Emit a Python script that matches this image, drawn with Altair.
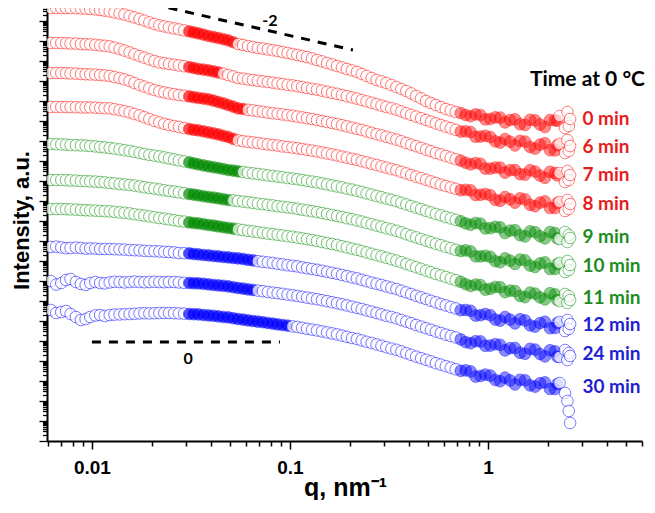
import altair as alt
import pandas as pd

# ---------------- data ----------------
series_names = ["0 min", "6 min", "7 min", "8 min", "9 min",
                "10 min", "11 min", "12 min", "24 min", "30 min"]
point_colors = ["#ff0000", "#ff0000", "#ff0000", "#ff0000",
                "#008a00", "#008a00", "#008a00",
                "#0000ff", "#0000ff", "#0000ff"]
label_colors = ["#e61e1e", "#e61e1e", "#e61e1e", "#e61e1e",
                "#1f8c1f", "#1f8c1f", "#1f8c1f",
                "#1e1ed2", "#1e1ed2", "#1e1ed2"]

# scattering vector q (nm^-1), main reading grid
q_grid = [0.0062, 0.007, 0.0078, 0.0088, 0.0098, 0.011, 0.0123, 0.0138, 0.0155, 0.0174,
          0.0195, 0.0219, 0.0245, 0.0275, 0.031, 0.0345, 0.0388, 0.0435, 0.0488, 0.0547,
          0.0614, 0.0689, 0.0773, 0.0867, 0.0973, 0.109, 0.122, 0.137, 0.154, 0.173,
          0.194, 0.218, 0.244, 0.274, 0.307, 0.345, 0.387, 0.434, 0.487, 0.546,
          0.613, 0.688, 0.772, 0.866, 0.97, 1.09, 1.22, 1.37, 1.54, 1.73,
          1.94, 2.18, 2.3, 2.45, 2.52, 2.56, 2.6]
# second reading grid, between the points above
q_mid = [0.0066, 0.0074, 0.0083, 0.0093, 0.0104, 0.0116, 0.013, 0.0146, 0.0164, 0.0184,
         0.0207, 0.0232, 0.026, 0.0292, 0.0327, 0.0366, 0.0411, 0.0461, 0.0517, 0.058,
         0.065, 0.073, 0.0819, 0.0918, 0.103, 0.1153, 0.1293, 0.1452, 0.1632, 0.1832,
         0.2057, 0.2306, 0.2586, 0.29, 0.3255, 0.3654, 0.4098, 0.4597, 0.5157, 0.5785,
         0.6494, 0.7288, 0.8177, 0.9166, 1.028, 1.153, 1.293, 1.452, 1.632, 1.832,
         2.057, 2.24]

# log10 of the (vertically shifted) intensity, arbitrary units
lg_0min = [21.65, 21.65, 21.65, 21.63, 21.6, 21.55, 21.48, 21.38, 21.25, 21.1,
           20.93, 20.78, 20.68, 20.58, 20.48, 20.38, 20.25, 20.15, 20.03, 19.85,
           19.75, 19.65, 19.58, 19.5, 19.4, 19.3, 19.2, 19.05, 18.9, 18.75,
           18.6, 18.45, 18.25, 18.05, 17.9, 17.7, 17.5, 17.25, 17.0, 16.8,
           16.6, 16.45, 16.3, 16.33, 16.08, 16.18, 15.93, 16.08, 15.8, 16.03,
           15.7, 16.03, 16.25, 15.65, 16.45, 15.75, 16.1]
lg_0min_mid = [21.65, 21.65, 21.64, 21.62, 21.58, 21.52, 21.43, 21.32, 21.18, 21.02,
               20.85, 20.73, 20.63, 20.53, 20.43, 20.32, 20.2, 20.09, 19.94, 19.8,
               19.7, 19.62, 19.54, 19.45, 19.35, 19.25, 19.13, 18.98, 18.83, 18.68,
               18.53, 18.35, 18.15, 17.98, 17.8, 17.6, 17.38, 17.13, 16.9, 16.7,
               16.53, 16.4, 16.24, 16.3, 16.1, 16.17, 16.05, 15.84, 16.06, 15.82,
               16.05, 16.02]
lg_6min = [19.9, 19.9, 19.88, 19.85, 19.83, 19.78, 19.73, 19.6, 19.43, 19.25,
           19.08, 18.93, 18.85, 18.78, 18.7, 18.6, 18.53, 18.43, 18.3, 18.15,
           18.08, 18.01, 17.95, 17.88, 17.81, 17.74, 17.65, 17.57, 17.46, 17.36,
           17.24, 17.12, 16.98, 16.84, 16.7, 16.57, 16.39, 16.22, 16.05, 15.88,
           15.72, 15.56, 15.48, 15.21, 15.26, 14.98, 15.1, 14.78, 14.97, 14.62,
           14.89, 14.53, 14.85, 14.4, 15.05, 14.5, 14.75]
lg_6min_mid = [19.9, 19.89, 19.87, 19.84, 19.81, 19.76, 19.67, 19.52, 19.34, 19.17,
               19.0, 18.89, 18.82, 18.74, 18.65, 18.57, 18.48, 18.37, 18.23, 18.12,
               18.05, 17.98, 17.92, 17.85, 17.78, 17.7, 17.61, 17.52, 17.41, 17.3,
               17.18, 17.05, 16.91, 16.77, 16.64, 16.48, 16.31, 16.14, 15.97, 15.8,
               15.64, 15.47, 15.45, 15.22, 15.2, 14.92, 14.97, 15.01, 14.7, 14.82,
               14.54, 14.79]
lg_7min = [18.4, 18.4, 18.38, 18.35, 18.33, 18.3, 18.25, 18.15, 18.0, 17.8,
           17.63, 17.48, 17.38, 17.3, 17.23, 17.15, 17.08, 16.95, 16.8, 16.63,
           16.56, 16.49, 16.42, 16.36, 16.29, 16.22, 16.14, 16.05, 15.95, 15.85,
           15.73, 15.61, 15.48, 15.34, 15.21, 15.07, 14.9, 14.74, 14.57, 14.4,
           14.25, 14.09, 13.91, 13.9, 13.62, 13.67, 13.42, 13.55, 13.32, 13.47,
           13.16, 13.4, 13.4, 12.95, 13.5, 13.05, 13.3]
lg_7min_mid = [18.4, 18.39, 18.37, 18.34, 18.32, 18.28, 18.2, 18.08, 17.9, 17.72,
               17.55, 17.43, 17.34, 17.27, 17.19, 17.12, 17.02, 16.88, 16.72, 16.6,
               16.53, 16.46, 16.39, 16.33, 16.26, 16.18, 16.1, 16.0, 15.9, 15.79,
               15.67, 15.55, 15.41, 15.28, 15.14, 14.99, 14.82, 14.66, 14.49, 14.33,
               14.17, 14.02, 13.83, 13.86, 13.62, 13.67, 13.54, 13.34, 13.54, 13.27,
               13.46, 13.28]
lg_8min = [16.7, 16.7, 16.7, 16.68, 16.68, 16.65, 16.63, 16.55, 16.43, 16.28,
           16.1, 15.93, 15.8, 15.7, 15.6, 15.53, 15.43, 15.33, 15.2, 15.03,
           14.96, 14.9, 14.83, 14.77, 14.7, 14.64, 14.56, 14.48, 14.38, 14.28,
           14.17, 14.06, 13.93, 13.8, 13.67, 13.54, 13.38, 13.22, 13.06, 12.9,
           12.75, 12.61, 12.56, 12.3, 12.35, 12.06, 12.2, 11.92, 12.08, 11.74,
           11.98, 11.65, 11.95, 11.5, 12.05, 11.6, 11.85]
lg_8min_mid = [16.7, 16.7, 16.69, 16.68, 16.67, 16.64, 16.59, 16.49, 16.35, 16.19,
               16.01, 15.86, 15.75, 15.65, 15.56, 15.48, 15.38, 15.26, 15.11, 14.99,
               14.93, 14.86, 14.8, 14.73, 14.67, 14.6, 14.52, 14.43, 14.33, 14.22,
               14.11, 13.99, 13.86, 13.73, 13.6, 13.46, 13.3, 13.14, 12.98, 12.82,
               12.68, 12.54, 12.53, 12.31, 12.29, 12.01, 12.09, 12.13, 11.81, 11.92,
               11.65, 11.9]
lg_9min = [14.85, 14.83, 14.8, 14.78, 14.75, 14.7, 14.65, 14.58, 14.5, 14.4,
           14.3, 14.23, 14.13, 14.03, 13.93, 13.83, 13.73, 13.65, 13.55, 13.48,
           13.41, 13.35, 13.28, 13.22, 13.15, 13.09, 13.01, 12.93, 12.83, 12.73,
           12.62, 12.51, 12.38, 12.25, 12.12, 11.99, 11.83, 11.67, 11.51, 11.35,
           11.2, 11.06, 10.88, 10.9, 10.63, 10.71, 10.4, 10.54, 10.23, 10.44,
           10.13, 10.4, 10.1, 10.45, 9.95, 10.3, 10.15]
lg_9min_mid = [14.84, 14.82, 14.79, 14.77, 14.73, 14.68, 14.62, 14.54, 14.45, 14.35,
               14.27, 14.18, 14.08, 13.98, 13.88, 13.78, 13.69, 13.6, 13.52, 13.45,
               13.38, 13.32, 13.25, 13.19, 13.12, 13.05, 12.97, 12.88, 12.78, 12.68,
               12.57, 12.45, 12.32, 12.19, 12.06, 11.91, 11.75, 11.59, 11.43, 11.28,
               11.13, 10.99, 10.81, 10.87, 10.64, 10.68, 10.52, 10.29, 10.48, 10.24,
               10.45, 10.13]
lg_10min = [13.05, 13.05, 13.03, 13.0, 12.98, 12.95, 12.9, 12.85, 12.8, 12.73,
            12.65, 12.58, 12.5, 12.43, 12.35, 12.28, 12.2, 12.13, 12.05, 12.0,
            11.94, 11.87, 11.81, 11.74, 11.68, 11.61, 11.53, 11.45, 11.35, 11.25,
            11.14, 11.03, 10.9, 10.77, 10.64, 10.51, 10.34, 10.18, 10.02, 9.86,
            9.71, 9.56, 9.53, 9.23, 9.26, 8.99, 9.13, 8.85, 9.03, 8.7,
            8.93, 8.6, 8.9, 8.45, 9.0, 8.55, 8.8]
lg_10min_mid = [13.05, 13.04, 13.02, 12.99, 12.97, 12.93, 12.88, 12.83, 12.77, 12.69,
                12.62, 12.54, 12.47, 12.39, 12.32, 12.24, 12.17, 12.09, 12.03, 11.97,
                11.91, 11.84, 11.78, 11.71, 11.65, 11.57, 11.49, 11.4, 11.3, 11.2,
                11.09, 10.97, 10.84, 10.71, 10.58, 10.43, 10.26, 10.1, 9.94, 9.79,
                9.64, 9.5, 9.48, 9.23, 9.21, 8.94, 9.02, 9.07, 8.77, 8.88,
                8.6, 8.85]
lg_11min = [11.6, 11.6, 11.58, 11.55, 11.53, 11.5, 11.48, 11.43, 11.38, 11.3,
            11.23, 11.15, 11.08, 11.0, 10.93, 10.88, 10.8, 10.73, 10.65, 10.58,
            10.51, 10.44, 10.37, 10.31, 10.24, 10.17, 10.09, 10.0, 9.9, 9.8,
            9.68, 9.56, 9.43, 9.29, 9.16, 9.02, 8.85, 8.69, 8.52, 8.35,
            8.2, 8.04, 7.84, 7.82, 7.57, 7.7, 7.44, 7.5, 7.19, 7.37,
            7.08, 7.33, 7.0, 7.35, 6.9, 7.25, 7.05]
lg_11min_mid = [11.6, 11.59, 11.57, 11.54, 11.52, 11.49, 11.46, 11.41, 11.34, 11.27,
                11.19, 11.12, 11.04, 10.97, 10.9, 10.84, 10.77, 10.69, 10.62, 10.55,
                10.48, 10.41, 10.34, 10.28, 10.21, 10.13, 10.05, 9.95, 9.85, 9.74,
                9.62, 9.5, 9.36, 9.23, 9.09, 8.94, 8.77, 8.61, 8.44, 8.28,
                8.12, 7.96, 7.75, 7.8, 7.61, 7.69, 7.52, 7.25, 7.42, 7.18,
                7.39, 7.05]
lg_12min = [9.7, 9.68, 9.65, 9.65, 9.63, 9.6, 9.6, 9.58, 9.55, 9.53,
            9.5, 9.48, 9.45, 9.4, 9.38, 9.33, 9.28, 9.23, 9.18, 9.13,
            9.06, 8.99, 8.93, 8.86, 8.79, 8.73, 8.64, 8.56, 8.46, 8.36,
            8.24, 8.13, 7.99, 7.86, 7.73, 7.6, 7.43, 7.26, 7.1, 6.93,
            6.78, 6.63, 6.55, 6.27, 6.35, 6.07, 6.2, 5.88, 6.03, 5.72,
            5.96, 5.65, 5.95, 5.5, 6.05, 5.6, 5.85]
lg_12min_mid = [9.72, 9.64, 9.67, 9.62, 9.62, 9.6, 9.59, 9.57, 9.54, 9.51,
                9.49, 9.46, 9.43, 9.39, 9.35, 9.3, 9.25, 9.2, 9.15, 9.1,
                9.03, 8.96, 8.9, 8.83, 8.76, 8.68, 8.6, 8.51, 8.41, 8.3,
                8.18, 8.06, 7.92, 7.8, 7.66, 7.51, 7.35, 7.18, 7.01, 6.85,
                6.7, 6.54, 6.51, 6.29, 6.29, 6.02, 6.07, 6.09, 5.78, 5.9,
                5.64, 5.9]
lg_24min = [8.0, 7.9, 8.1, 7.85, 7.9, 7.9, 7.93, 7.95, 7.95, 7.95,
            7.95, 7.95, 7.95, 7.93, 7.9, 7.88, 7.83, 7.78, 7.73, 7.65,
            7.58, 7.52, 7.45, 7.39, 7.32, 7.25, 7.17, 7.09, 6.99, 6.89,
            6.78, 6.66, 6.53, 6.4, 6.26, 6.13, 5.97, 5.8, 5.64, 5.47,
            5.32, 5.18, 4.94, 4.99, 4.76, 4.84, 4.53, 4.65, 4.36, 4.57,
            4.23, 4.48, 4.2, 4.55, 4.05, 4.4, 4.25]
lg_24min_mid = [7.82, 8.05, 7.95, 7.8, 7.95, 7.88, 7.96, 7.93, 7.97, 7.94,
                7.96, 7.94, 7.95, 7.91, 7.89, 7.86, 7.8, 7.76, 7.69, 7.62,
                7.55, 7.49, 7.42, 7.36, 7.29, 7.21, 7.13, 7.04, 6.94, 6.84,
                6.72, 6.6, 6.47, 6.33, 6.2, 6.05, 5.89, 5.72, 5.56, 5.4,
                5.25, 5.08, 4.89, 4.98, 4.77, 4.81, 4.64, 4.41, 4.61, 4.35,
                4.54, 4.22]
lg_30min = [6.55, 6.45, 6.35, 6.05, 6.2, 6.3, 6.3, 6.33, 6.35, 6.38,
            6.38, 6.4, 6.4, 6.38, 6.35, 6.33, 6.28, 6.23, 6.18, 6.1,
            6.03, 5.97, 5.9, 5.83, 5.77, 5.7, 5.61, 5.53, 5.43, 5.33,
            5.21, 5.1, 4.96, 4.83, 4.69, 4.56, 4.39, 4.22, 4.06, 3.89,
            3.74, 3.59, 3.53, 3.22, 3.32, 3.05, 3.17, 2.83, 3.03, 2.72,
            2.93, 2.6, 2.9, 2.4, 2.0, 1.5, 0.9]
lg_30min_mid = [6.4, 6.5, 6.2, 6.1, 6.28, 6.25, 6.32, 6.34, 6.36, 6.39,
                6.39, 6.4, 6.39, 6.37, 6.34, 6.3, 6.26, 6.2, 6.14, 6.07,
                6.0, 5.94, 5.87, 5.8, 5.73, 5.66, 5.57, 5.48, 5.38, 5.27,
                5.15, 5.03, 4.9, 4.76, 4.62, 4.48, 4.31, 4.14, 3.98, 3.82,
                3.67, 3.51, 3.48, 3.25, 3.27, 2.99, 3.03, 3.06, 2.78, 2.89,
                2.6, 2.85]

all_lg = [lg_0min, lg_6min, lg_7min, lg_8min, lg_9min,
          lg_10min, lg_11min, lg_12min, lg_24min, lg_30min]
all_lg_mid = [lg_0min_mid, lg_6min_mid, lg_7min_mid, lg_8min_mid, lg_9min_mid,
              lg_10min_mid, lg_11min_mid, lg_12min_mid, lg_24min_mid, lg_30min_mid]

# q ranges where each curve's points are densely packed
dense_from = [0.03, 0.03, 0.03, 0.03, 0.03, 0.03, 0.03, 0.03, 0.03, 0.03]
dense_to = [0.054, 0.045, 0.06, 0.054, 0.058, 0.05, 0.054, 0.068, 0.066, 0.1]
dense_hi = [0.7, 2.25]

# curve labels (right side)
label_q = [3.0] * 10
label_lg = [16.1, 14.7, 13.3, 11.85, 10.2, 8.75, 7.15, 5.8, 4.35, 2.7]
legend_title = "Time at 0 °C"
legend_title_q = [1.63]
legend_title_lg = [18.05]

# slope guide lines
guide_names = ["-2", "-2", "0", "0"]
guide_q = [0.0201, 0.208, 0.01, 0.089]
guide_lg = [21.85, 19.55, 4.95, 4.95]
guide_text = ["-2", "0"]
guide_text_q = [0.0793, 0.0306]
guide_text_lg = [21.0, 4.1]

# ---------------- tables ----------------
rows = []
for si, (name, lgs, lgm, d0, d1) in enumerate(zip(series_names, all_lg, all_lg_mid,
                                                  dense_from, dense_to)):
    assert len(lgs) == len(q_grid), name
    assert len(lgm) == len(q_mid), name
    for q, v in list(zip(q_grid, lgs)) + list(zip(q_mid, lgm)):
        rows.append({"si": si, "series": name, "q": q, "lg": v, "d0": d0, "d1": d1})
pts = pd.DataFrame(rows).sort_values(["si", "q"]).reset_index(drop=True)

labels = pd.DataFrame({"text": series_names, "q": label_q, "lg": label_lg,
                       "col": label_colors})
title_df = pd.DataFrame({"text": [legend_title], "q": legend_title_q,
                         "lg": legend_title_lg})
guides = pd.DataFrame({"line": guide_names, "q": guide_q, "lg": guide_lg})
guide_lbl = pd.DataFrame({"text": guide_text, "q": guide_text_q, "lg": guide_text_lg})

# ---------------- axes ----------------
x_major = [0.01, 0.1, 1]
x_ticks = list(x_major)
for n in (-3, -2, -1, 0):
    for k in range(2, 10):
        v = round(k * 10 ** n, 6)
        if 0.00593 <= v <= 6.0:
            x_ticks.append(v)

y_top = 10 ** 21.65
y_ticks = []
for n in range(0, 22):
    for k in range(1, 10):
        v = k * 10 ** n
        if v <= y_top:
            y_ticks.append(float(v))

x_enc = alt.X(
    "q:Q",
    scale=alt.Scale(type="log", domain=[0.00593, 6.0], nice=False),
    axis=alt.Axis(
        values=x_ticks, format="~g",
        labelExpr="(datum.value == 0.01 || datum.value == 0.1 || datum.value == 1) ? datum.label : ''",
        labelFont="Liberation Sans", labelFontWeight="bold", labelFontSize=19,
        labelColor="black", labelBaseline="alphabetic", labelPadding=24,
        labelOverlap=False, labelFlush=False,
        tickSize={"condition": {"test": "datum.value == 0.01 || datum.value == 0.1 || datum.value == 1",
                                "value": 8}, "value": 5},
        tickColor="black", tickWidth=1.5, domainColor="black", domainWidth=2,
        grid=False,
        title="q, nm⁻¹", titleFont="Liberation Sans", titleFontWeight="bold",
        titleFontSize=25, titleColor="black", titleX=298, titleY=54,
        titleAlign="center", titleBaseline="alphabetic",
    ),
)
y_enc = alt.Y(
    "intensity:Q",
    scale=alt.Scale(type="log", domain=[1, y_top], nice=False),
    axis=alt.Axis(
        values=y_ticks, labels=False,
        tickSize={"condition": {"test": "abs(log(datum.value)/LN10 - round(log(datum.value)/LN10)) < 0.000001",
                                "value": 8}, "value": 4.5},
        tickColor="black", tickWidth=1.3, domainColor="black", domainWidth=2,
        grid=False,
        title="Intensity, a.u.", titleFont="Liberation Sans", titleFontWeight="bold",
        titleFontSize=22, titleColor="black", titleAngle=270, titleX=-19, titleY=212,
        titleAlign="center", titleBaseline="alphabetic",
    ),
)

color_scale = alt.Scale(domain=series_names, range=point_colors)
to_int = "pow(10, datum.lg)"
dense_lo_test = "datum.q >= datum.d0 && datum.q < datum.d1"
dense_hi_test = f"datum.q >= {dense_hi[0]} && datum.q < {dense_hi[1]}"

points = alt.Chart(pts).transform_calculate(intensity=to_int).mark_point(
    shape="circle", size=135, strokeWidth=0.9, strokeOpacity=0.8,
    filled=False, clip=True,
).encode(
    x=x_enc, y=y_enc,
    stroke=alt.Stroke("series:N", scale=color_scale, legend=None),
    fill=alt.condition(
        f"({dense_lo_test}) || ({dense_hi_test})",
        alt.Fill("series:N", scale=color_scale, legend=None),
        alt.value("white"),
    ),
    fillOpacity=alt.condition(dense_hi_test, alt.value(0.65), alt.value(1.0)),
)

guide_lines = alt.Chart(guides).transform_calculate(intensity=to_int).mark_line(
    color="black", strokeWidth=3, strokeDash=[9, 8]
).encode(x=x_enc, y=y_enc, detail="line:N")

guide_texts = alt.Chart(guide_lbl).transform_calculate(intensity=to_int).mark_text(
    font="Lato", fontWeight="bold", fontSize=16, color="black",
    align="center", baseline="middle"
).encode(x=x_enc, y=y_enc, text="text:N")

curve_labels = alt.Chart(labels).transform_calculate(intensity=to_int).mark_text(
    font="Lato", fontWeight="bold", fontSize=19, align="left", baseline="middle"
).encode(x=x_enc, y=y_enc, text="text:N", color=alt.Color("col:N", scale=None))

legend_head = alt.Chart(title_df).transform_calculate(intensity=to_int).mark_text(
    font="Lato", fontWeight="bold", fontSize=21, color="black",
    align="left", baseline="middle"
).encode(x=x_enc, y=y_enc, text="text:N")

chart = alt.layer(points, guide_lines, guide_texts, curve_labels, legend_head).properties(
    width=595, height=433,
    padding={"left": 39, "top": 0, "right": 5, "bottom": 59},
    autosize=alt.AutoSizeParams(type="none"),
    background="white",
).configure_view(stroke=None)

chart.save("out.html", embed_options={"renderer": "svg", "actions": False})
